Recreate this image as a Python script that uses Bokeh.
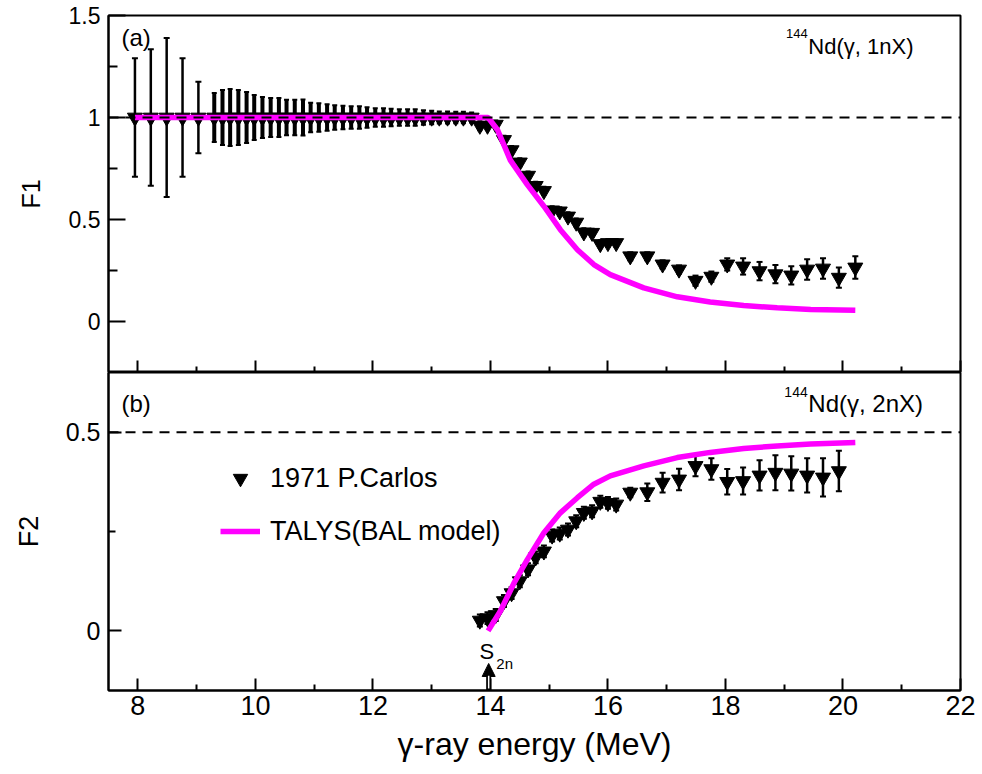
import numpy as np
from bokeh.plotting import figure
from bokeh.layouts import column
from bokeh.models import (ColumnDataSource, Whisker, TeeHead, Span, Label, Legend, LegendItem,
                          FixedTicker, NumeralTickFormatter, Arrow, NormalHead, Range1d,
                          CustomLabelingPolicy)
from bokeh.embed import file_html
from bokeh.resources import INLINE

# ---------------- data ----------------
# (a) F1, 1971 P.Carlos
energy_lo = [7.95, 8.22, 8.49, 8.76, 9.03]
f1_lo = [1.0, 1.0, 1.0, 1.0, 1.0]
f1_lo_err = [0.29, 0.335, 0.39, 0.29, 0.175]

energy_mid = [9.30, 9.44, 9.57, 9.71, 9.85, 9.98, 10.12, 10.26, 10.40, 10.53, 10.67, 10.81, 10.94,
              11.08, 11.22, 11.35, 11.49, 11.63, 11.77, 11.90, 12.04, 12.18, 12.31, 12.45, 12.59,
              12.72, 12.86, 13.00, 13.13, 13.27, 13.41, 13.54, 13.68, 13.82, 13.95, 14.09, 14.23,
              14.36, 14.50, 14.64, 14.77, 14.91, 15.05, 15.18, 15.32, 15.46, 15.59, 15.73, 15.87,
              16.00, 16.14]
f1_mid = [1.0, 1.0, 1.0, 1.0, 1.0, 1.0, 1.0, 1.0, 1.0, 1.0, 1.0, 1.0, 1.0,
          1.0, 1.0, 1.0, 1.0, 1.0, 1.0, 1.0, 1.0, 1.0, 1.0, 1.0, 1.0,
          1.0, 1.0, 1.0, 1.0, 1.0, 1.0, 1.0, 1.0, 0.96, 0.96, 0.965, 0.89,
          0.84, 0.78, 0.715, 0.665, 0.64, 0.545, 0.54, 0.515, 0.485, 0.437, 0.435, 0.38,
          0.385, 0.385]
f1_mid_err = [0.12, 0.135, 0.14, 0.135, 0.125, 0.11, 0.10, 0.095, 0.095, 0.087, 0.087, 0.088, 0.072,
              0.07, 0.065, 0.06, 0.057, 0.055, 0.055, 0.05, 0.045, 0.045, 0.043, 0.04, 0.04,
              0.04, 0.035, 0.033, 0.03, 0.03, 0.028, 0.028, 0.025, 0.022, 0.02, 0.02, 0.02,
              0.02, 0.02, 0.02, 0.02, 0.02, 0.02, 0.02, 0.02, 0.02, 0.02, 0.02, 0.02,
              0.02, 0.02]

energy_hi = [16.38, 16.67, 16.93, 17.21, 17.49, 17.76, 18.03, 18.30, 18.58, 18.85, 19.12, 19.39,
             19.66, 19.93, 20.21]
f1_hi = [0.32, 0.32, 0.28, 0.255, 0.20, 0.22, 0.28, 0.27, 0.247, 0.232, 0.226, 0.255, 0.26, 0.215, 0.265]
f1_hi_err = [0.02, 0.02, 0.02, 0.02, 0.025, 0.025, 0.03, 0.04, 0.045, 0.045, 0.045, 0.05, 0.05, 0.05, 0.055]

# (b) F2, 1971 P.Carlos
energy_f2 = [13.82, 13.95, 14.09, 14.23, 14.36, 14.50, 14.64, 14.77, 14.91, 15.05, 15.18, 15.32,
             15.46, 15.59, 15.73, 15.87, 16.00, 16.14, 16.38, 16.67, 16.93, 17.21, 17.49, 17.76,
             18.03, 18.30, 18.58, 18.85, 19.12, 19.39, 19.66, 19.93]
f2 = [0.026, 0.032, 0.04, 0.075, 0.095, 0.125, 0.155, 0.185, 0.20, 0.24, 0.245, 0.255,
      0.276, 0.297, 0.301, 0.325, 0.322, 0.318, 0.348, 0.349, 0.373, 0.381, 0.415, 0.407,
      0.375, 0.377, 0.391, 0.398, 0.396, 0.391, 0.386, 0.402]
f2_err = [0.015, 0.015, 0.015, 0.015, 0.015, 0.015, 0.015, 0.015, 0.015, 0.015, 0.015, 0.015,
          0.015, 0.015, 0.015, 0.015, 0.015, 0.015, 0.012, 0.022, 0.025, 0.027, 0.026, 0.027,
          0.032, 0.034, 0.038, 0.044, 0.043, 0.043, 0.048, 0.051]

# TALYS (BAL model)
talys_e1 = [7.95, 13.0, 13.96, 14.12, 14.34, 14.63, 14.91, 15.19, 15.48, 15.76, 16.04, 16.61,
            17.18, 17.74, 18.31, 18.88, 19.45, 20.21]
talys_f1 = [1.0, 1.0, 1.0, 0.94, 0.79, 0.67, 0.565, 0.45, 0.352, 0.279, 0.23, 0.165,
            0.121, 0.096, 0.078, 0.067, 0.059, 0.055]
talys_e2 = [13.96, 14.17, 14.40, 14.63, 14.91, 15.19, 15.48, 15.76, 16.04, 16.61, 17.18, 17.74,
            18.31, 18.88, 19.45, 20.21]
talys_f2 = [0.0, 0.05, 0.12, 0.18, 0.247, 0.297, 0.335, 0.369, 0.39, 0.415, 0.436, 0.449,
            0.459, 0.465, 0.47, 0.474]

s2n_energy = 13.97
x_major = [8, 10, 12, 14, 16, 18, 20, 22]
x_minor = [9, 11, 13, 15, 17, 19, 21]
f1_major = [0, 0.5, 1, 1.5]
f1_minor = [0.25, 0.75, 1.25]
f2_major = [0, 0.5]
f2_minor = [0.25]

FONT = "Liberation Sans"
MAGENTA = "#ff00ff"


def src(e, v, err):
    e = np.asarray(e, float); v = np.asarray(v, float); err = np.asarray(err, float)
    return ColumnDataSource(dict(x=e, y=v, up=v + err, lo=v - err))


def add_err(p, s, width, cap):
    p.add_layout(Whisker(source=s, base="x", upper="up", lower="lo", line_color="black",
                         line_width=width,
                         upper_head=TeeHead(size=cap, line_width=2, line_color="black"),
                         lower_head=TeeHead(size=cap, line_width=2, line_color="black")))


def style(p):
    p.grid.visible = False
    p.background_fill_color = "white"
    p.border_fill_color = "white"
    p.outline_line_color = "black"
    p.outline_line_width = 2
    p.outline_line_alpha = 1.0


xr = Range1d(7.5, 22)

# ---------------- panel (a) ----------------
p1 = figure(width=978, height=372, x_range=xr, y_range=Range1d(-0.25, 1.5),
            output_backend="svg", toolbar_location=None,
            min_border_left=108, min_border_right=18, min_border_top=15, min_border_bottom=0)
style(p1)

s_lo = src(energy_lo, f1_lo, f1_lo_err)
s_mid = src(energy_mid, f1_mid, f1_mid_err)
s_hi = src(energy_hi, f1_hi, f1_hi_err)
add_err(p1, s_lo, 2.5, 6)
add_err(p1, s_mid, 4, 5)
add_err(p1, s_hi, 2.5, 6)
for s in (s_lo, s_mid, s_hi):
    p1.scatter("x", "y", source=s, marker="inverted_triangle", size=15,
               fill_color="black", line_color="black")
p1.line(talys_e1, talys_f1, line_color=MAGENTA, line_width=5.5)
p1.add_layout(Span(location=1.0, dimension="width", line_color="black", line_width=2,
                   line_dash="10 7"))

xa1 = p1.xaxis[0]
xa1.ticker = FixedTicker(ticks=x_major, minor_ticks=x_minor)
xa1.major_label_policy = CustomLabelingPolicy(code="return []")
xa1.major_label_text_font_size = "0px"
xa1.major_label_standoff = 0
xa1.major_tick_in = 12
xa1.major_tick_out = 0
xa1.minor_tick_in = 6
xa1.minor_tick_out = 0

ya1 = p1.yaxis[0]
ya1.ticker = FixedTicker(ticks=f1_major, minor_ticks=f1_minor)
ya1.formatter = NumeralTickFormatter(format="0.[0]")
ya1.major_tick_in = 17
ya1.major_tick_out = 0
ya1.minor_tick_in = 9
ya1.minor_tick_out = 0
ya1.major_label_text_font_size = "23px"
ya1.major_label_standoff = 8
ya1.axis_label = "F1"
ya1.axis_label_text_font_size = "25px"
ya1.axis_label_standoff = 21

p1.add_layout(Label(x=7.72, y=1.394, text="(a)", text_font=FONT, text_font_size="24px",
                    text_baseline="middle", text_align="left", text_color="black"))
p1.add_layout(Label(x=19.40, y=1.41, text="144", text_font=FONT, text_font_size="13px",
                    text_baseline="middle", text_align="right", text_color="black"))
p1.add_layout(Label(x=19.41, y=1.35, text="Nd(γ, 1nX)", text_font=FONT, text_font_size="22px",
                    text_baseline="middle", text_align="left", text_color="black"))

# ---------------- panel (b) ----------------
p2 = figure(width=978, height=398, x_range=xr, y_range=Range1d(-0.15, 0.65),
            output_backend="svg", toolbar_location=None,
            min_border_left=108, min_border_right=18, min_border_top=0, min_border_bottom=80)
style(p2)

s_f2 = src(energy_f2, f2, f2_err)
add_err(p2, s_f2, 2.5, 6)
r_f2 = p2.scatter("x", "y", source=s_f2, marker="inverted_triangle", size=15,
                  fill_color="black", line_color="black")
r_t2 = p2.line(talys_e2, talys_f2, line_color=MAGENTA, line_width=5.5)
p2.add_layout(Span(location=0.5, dimension="width", line_color="black", line_width=2,
                   line_dash="10 7"))

xa2 = p2.xaxis[0]
xa2.ticker = FixedTicker(ticks=x_major, minor_ticks=x_minor)
xa2.major_tick_in = 12
xa2.major_tick_out = 0
xa2.minor_tick_in = 6
xa2.minor_tick_out = 0
xa2.major_label_text_font_size = "27px"
xa2.major_label_standoff = 5
xa2.axis_label = "γ-ray energy (MeV)"
xa2.axis_label_text_font_size = "32px"
xa2.axis_label_standoff = 8

ya2 = p2.yaxis[0]
ya2.ticker = FixedTicker(ticks=f2_major, minor_ticks=f2_minor)
ya2.formatter = NumeralTickFormatter(format="0.[0]")
ya2.major_tick_in = 13
ya2.major_tick_out = 0
ya2.minor_tick_in = 7
ya2.minor_tick_out = 0
ya2.major_label_text_font_size = "25px"
ya2.major_label_standoff = 8
ya2.axis_label = "F2"
ya2.axis_label_text_font_size = "27px"
ya2.axis_label_standoff = 19

for p in (p1, p2):
    for ax in (p.xaxis[0], p.yaxis[0]):
        ax.axis_line_width = 2
        ax.axis_line_color = "black"
        ax.major_tick_line_width = 2
        ax.minor_tick_line_width = 2
        ax.major_tick_line_color = "black"
        ax.minor_tick_line_color = "black"
        ax.major_label_text_font = FONT
        ax.major_label_text_color = "black"
        ax.axis_label_text_font = FONT
        ax.axis_label_text_font_style = "normal"
        ax.axis_label_text_color = "black"

p2.add_layout(Label(x=7.72, y=0.573, text="(b)", text_font=FONT, text_font_size="24px",
                    text_baseline="middle", text_align="left", text_color="black"))
p2.add_layout(Label(x=19.40, y=0.601, text="144", text_font=FONT, text_font_size="14px",
                    text_baseline="middle", text_align="right", text_color="black"))
p2.add_layout(Label(x=19.41, y=0.573, text="Nd(γ, 2nX)", text_font=FONT, text_font_size="24px",
                    text_baseline="middle", text_align="left", text_color="black"))

# S2n marker
p2.add_layout(Label(x=s2n_energy - 0.03, y=-0.051, text="S", text_font=FONT, text_font_size="22px",
                    text_baseline="middle", text_align="center", text_color="black"))
p2.add_layout(Label(x=s2n_energy + 0.13, y=-0.083, text="2n", text_font=FONT, text_font_size="15px",
                    text_baseline="middle", text_align="left", text_color="black"))
p2.add_layout(Arrow(x_start=s2n_energy, y_start=-0.15, x_end=s2n_energy, y_end=-0.082,
                    line_color="black", line_width=5,
                    end=NormalHead(size=13, fill_color="black", line_color="black", line_width=1)))
p2.add_layout(Arrow(x_start=s2n_energy, y_start=-0.145, x_end=s2n_energy, y_end=-0.113,
                    line_color="white", line_width=1.5, end=None))

legend = Legend(items=[LegendItem(label="1971 P.Carlos", renderers=[r_f2]),
                       LegendItem(label="TALYS(BAL model)", renderers=[r_t2])],
                location=(112, 141), orientation="vertical",
                glyph_width=40, glyph_height=36, label_standoff=10, spacing=17,
                padding=0, margin=0, border_line_alpha=0, background_fill_alpha=0,
                label_text_font=FONT, label_text_font_size="27px", label_text_color="black")
p2.add_layout(legend)

layout = column(p1, p2, spacing=0)
open("out.html", "w").write(file_html(layout, INLINE))
